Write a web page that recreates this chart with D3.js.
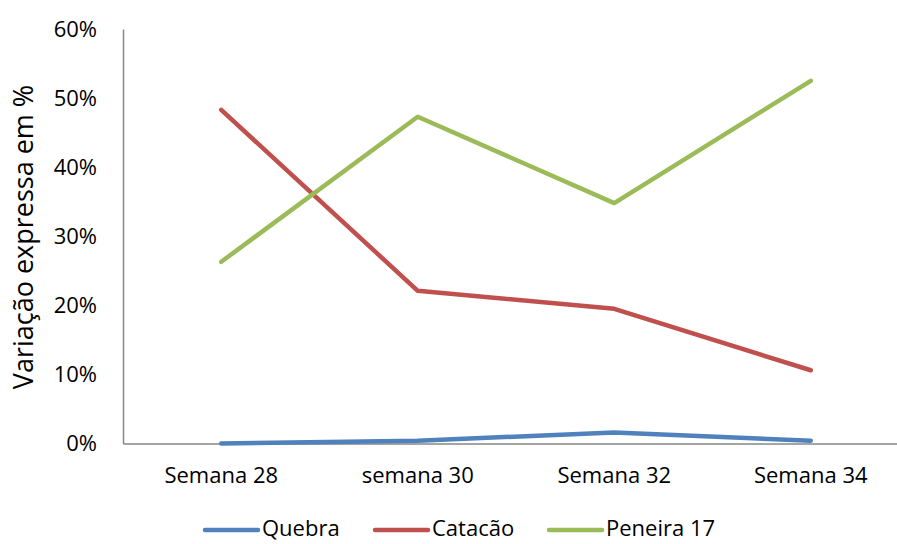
<!DOCTYPE html>
<html>
<head>
<meta charset="utf-8">
<script src="https://cdn.jsdelivr.net/npm/d3@7"></script>
<style>
  body { margin: 0; background: #fff; }
  text { font-family: "Open Sans", sans-serif; fill: #000; }
</style>
</head>
<body>
<svg></svg>
<script>
const svg = d3.select('svg')
    .attr('width', 897)
    .attr('height', 544);

const categories = ['Semana 28', 'semana 30', 'Semana 32', 'Semana 34'];
const quebra = [0.000, 0.004, 0.016, 0.004];
const catacao = [0.483, 0.221, 0.195, 0.106];
const peneira = [0.263, 0.473, 0.348, 0.525];
const seriesNames = ['Quebra', 'Catacão', 'Peneira 17'];
const seriesColors = ['#4F81BD', '#C0504D', '#9BBB59'];
const yTicks = [0, 0.1, 0.2, 0.3, 0.4, 0.5, 0.6];

const allSeries = [quebra, catacao, peneira];

const x = d3.scaleBand()
    .domain(categories)
    .range([123, 909]);

const y = d3.scaleLinear()
    .domain([0, 0.6])
    .range([443.5, 29]);

// y axis
const yAxis = svg.append('g')
    .attr('transform', 'translate(123,0)')
    .call(d3.axisLeft(y).tickValues(yTicks).tickSize(0).tickPadding(26)
        .tickFormat(d3.format('.0%')));
yAxis.select('.domain').attr('stroke', '#868686').attr('stroke-width', 1.5);
yAxis.selectAll('text')
    .style('font-size', '22px')
    .style('font-family', '"Open Sans", sans-serif')
    .attr('fill', '#000');

// x axis
const xAxis = svg.append('g')
    .attr('transform', 'translate(0,443.5)')
    .call(d3.axisBottom(x).tickSize(0).tickPadding(24));
xAxis.select('.domain').attr('stroke', '#868686').attr('stroke-width', 1.5);
xAxis.selectAll('text')
    .style('font-size', '22px')
    .style('font-family', '"Open Sans", sans-serif')
    .attr('fill', '#000');

// y title
svg.append('text')
    .attr('transform', 'translate(33,237) rotate(-90)')
    .attr('text-anchor', 'middle')
    .style('font-size', '27px')
    .text('Variação expressa em %');

const line = d3.line()
    .x((d, i) => x(categories[i]) + x.bandwidth() / 2)
    .y(d => y(d));

svg.selectAll('.series')
    .data(allSeries)
    .enter()
    .append('path')
    .attr('class', 'series')
    .attr('d', d => line(d))
    .attr('fill', 'none')
    .attr('stroke', (d, i) => seriesColors[i])
    .attr('stroke-width', 4.5)
    .attr('stroke-linecap', 'round')
    .attr('stroke-linejoin', 'round');

// legend
const legendX = [205, 375, 549];
const legend = svg.selectAll('.legend')
    .data(seriesNames)
    .enter()
    .append('g')
    .attr('class', 'legend')
    .attr('transform', (d, i) => `translate(${legendX[i]},530)`);

legend.append('line')
    .attr('x1', 0)
    .attr('x2', 53)
    .attr('y1', 0)
    .attr('y2', 0)
    .attr('stroke', (d, i) => seriesColors[i])
    .attr('stroke-width', 4.5)
    .attr('stroke-linecap', 'round');

legend.append('text')
    .attr('x', 57)
    .attr('y', 6)
    .style('font-size', '22px')
    .text(d => d);
</script>
</body>
</html>
